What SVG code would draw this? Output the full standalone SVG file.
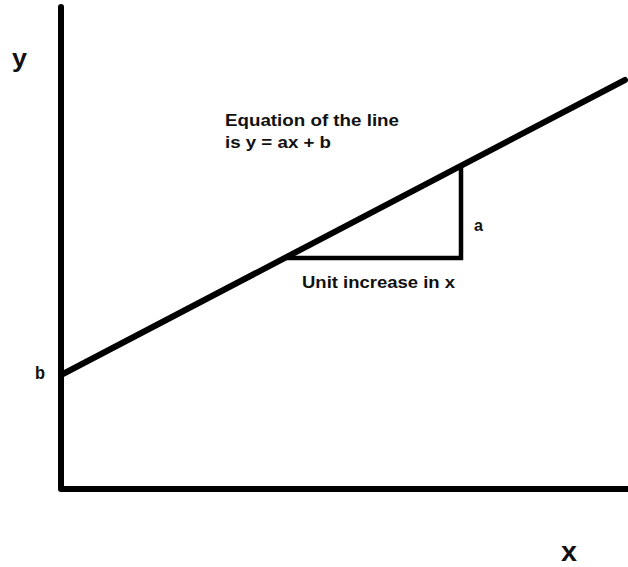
<svg xmlns="http://www.w3.org/2000/svg" width="628" height="567" viewBox="0 0 628 567">
<style>
.ax{stroke:#000;stroke-width:6;fill:none;stroke-linecap:round;stroke-linejoin:round}
.tri{stroke:#000;stroke-width:4.5;fill:none}
.t{font-family:"Liberation Sans",Arial,sans-serif;font-weight:bold;fill:#111}
</style>
<rect width="628" height="567" fill="#fff"/>
<g id="connectors">
<polyline class="ax" points="61,7 61,489 628,489"/>
<line class="ax" x1="61" y1="375" x2="625" y2="80"/>
<polyline class="tri" points="286,258 461,258 461,166"/>
</g>
<g id="label-y"><text class="t" x="12" y="67" font-size="26" textLength="15" lengthAdjust="spacingAndGlyphs">y</text></g>
<g id="label-x"><text class="t" x="561" y="561" font-size="27" textLength="16" lengthAdjust="spacingAndGlyphs">x</text></g>
<g id="label-b"><text class="t" x="35" y="379" font-size="18" textLength="10" lengthAdjust="spacingAndGlyphs">b</text></g>
<g id="label-a"><text class="t" x="474" y="231" font-size="17" textLength="9" lengthAdjust="spacingAndGlyphs">a</text></g>
<g id="label-eq">
<text class="t" x="225" y="126" font-size="16.5" textLength="174" lengthAdjust="spacingAndGlyphs">Equation of the line</text>
<text class="t" x="225" y="148" font-size="16.5" textLength="106" lengthAdjust="spacingAndGlyphs">is y = ax + b</text>
</g>
<g id="label-unit"><text class="t" x="302" y="288" font-size="16" textLength="153" lengthAdjust="spacingAndGlyphs">Unit increase in x</text></g>
</svg>
